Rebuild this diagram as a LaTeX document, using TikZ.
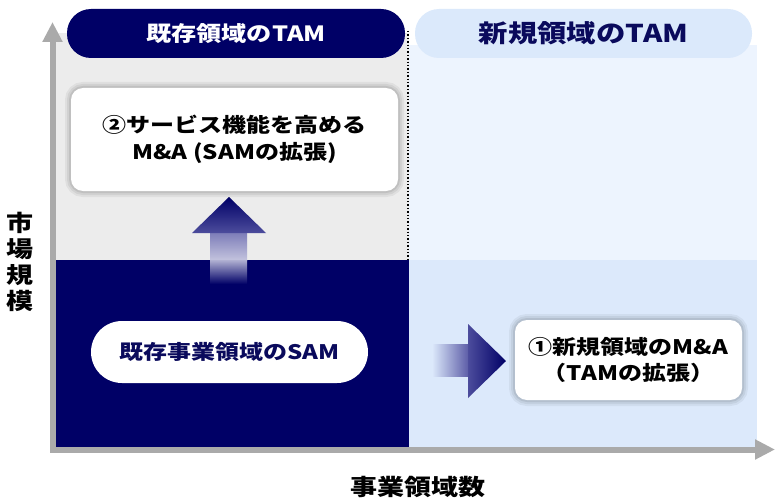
\documentclass[tikz,border=0pt]{standalone}
\usepackage{fontspec}
\setmainfont{Noto Sans CJK JP}[FakeStretch=1.2]
\usetikzlibrary{arrows.meta}
\definecolor{navy}{HTML}{000066}
\definecolor{navytext}{HTML}{0A0A5C}
\definecolor{graybg}{HTML}{ECECEC}
\definecolor{bluebgA}{HTML}{EDF4FE}
\definecolor{bluebgB}{HTML}{DCE9FB}
\definecolor{pillblue}{HTML}{DBE9FB}
\definecolor{axisgray}{HTML}{AAAAAA}
\definecolor{arrowmid}{HTML}{5A5AA6}
\definecolor{arrowlight}{HTML}{C4C4DE}
\tikzset{
  axisline/.style={draw=axisgray, line width=6pt, line join=miter},
  hdrL/.style={fill=navy, rounded corners=24pt, minimum width=338pt, minimum height=49pt,
    text=white, font=\bfseries\fontsize{21}{25}\selectfont, inner sep=0pt},
  hdrR/.style={fill=pillblue, rounded corners=24pt, minimum width=337pt, minimum height=49pt,
    text=navytext, font=\bfseries\fontsize{24.5}{28}\selectfont, inner sep=0pt},
  glow/.style={preaction={draw=black, line width=12pt, draw opacity=0.05},
    preaction={draw=black, line width=8pt, draw opacity=0.06},
    preaction={draw=black, line width=4pt, draw opacity=0.08}},
  card/.style={fill=white, rounded corners=12pt, align=center, inner sep=0pt,
    font=\bfseries\fontsize{20}{26.5}\selectfont, text=black, glow},
  sampill/.style={fill=white, rounded corners=31pt, minimum width=277pt, minimum height=62pt,
    text=navytext, font=\bfseries\fontsize{20}{24}\selectfont, inner sep=0pt},
  axislabel/.style={font=\bfseries\fontsize{22.5}{26}\selectfont, text=black, align=center, inner sep=0pt}
}
\begin{document}
\begin{tikzpicture}[x=1pt,y=-1pt]
\useasboundingbox (0,0) rectangle (775,500);
% backgrounds
\fill[graybg] (56,33) rectangle (408.5,260);
\fill[bluebgA] (408.5,45) rectangle (757,260);
\fill[navy] (56,260) rectangle (409,447);
\fill[bluebgB] (409,260) rectangle (757,447);
\draw[dotted, line width=1.4pt] (408,31) -- (408,260);
% axes
\coordinate (ytop) at (52.5,22);
\coordinate (corner) at (52.5,449.5);
\coordinate (xend) at (775,449.5);
\draw[axisline, {Triangle[length=20pt,width=19pt]}-{Triangle[length=20pt,width=19pt]}] (ytop) -- (corner) -- (xend);
% headers
\node[hdrL] (hL) at (236,33.5) {既存領域のTAM};
\node[hdrR] (hR) at (583.5,33.5) {新規領域のTAM};
% up arrow (SAM expansion)
\shade[top color=arrowmid!80!white, bottom color=arrowlight] (210,232) rectangle (247,260.5);
\shade[top color=arrowlight!90!navy, bottom color=navy] (210,260) rectangle (247,284);
\shade[top color=navy, bottom color=arrowmid!85!navy] (192,233) -- (229,197) -- (266,233) -- cycle;
% right arrow (TAM expansion)
\shade[left color=bluebgB, right color=arrowmid] (432,344) rectangle (469,376);
\shade[left color=arrowmid!85!navy, right color=navy] (468,324) -- (506,361) -- (468,398) -- cycle;
% boxes
\node[card, minimum width=327pt, minimum height=103pt] (b2) at (234.5,139.5)
  {②サービス機能を高める\\M\&A (SAMの拡張)};
\node[sampill] (sam) at (229.5,352) {既存事業領域のSAM};
\node[card, minimum width=227pt, minimum height=80pt] (b1) at (628.5,360)
  {①新規領域のM\&A\\（TAMの拡張）};
% axis labels
\node[axislabel] (yl) at (20,262) {市\\場\\規\\模};
\node[axislabel] (xl) at (418,487) {事業領域数};
\end{tikzpicture}
\end{document}
